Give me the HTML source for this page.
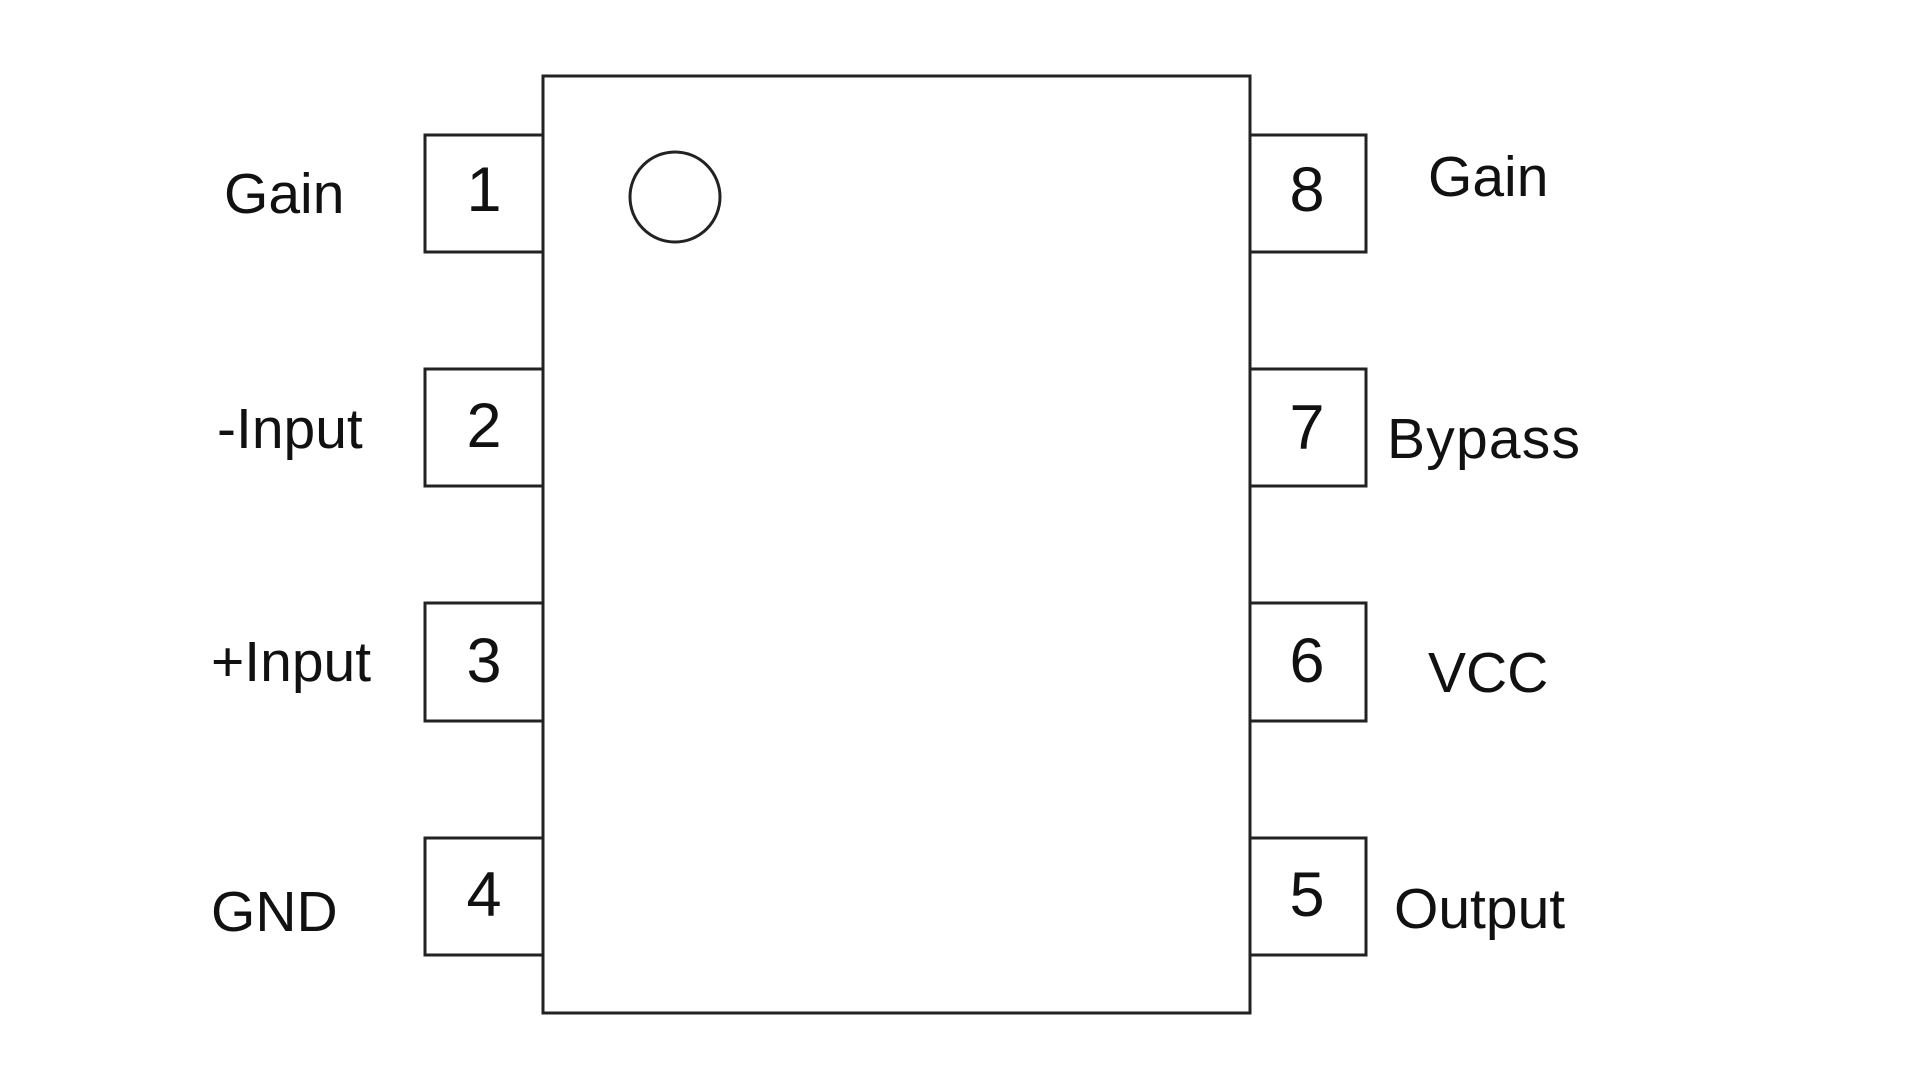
<!DOCTYPE html>
<html><head><style>html,body{margin:0;padding:0;background:#fff;}svg{display:block}</style></head>
<body>
<svg width="1920" height="1080" viewBox="0 0 1920 1080" xmlns="http://www.w3.org/2000/svg" font-family="Liberation Sans, Arial, sans-serif" fill="#111">
<g fill="#fff" stroke="#222" stroke-width="3">
<rect x="543" y="76" width="707" height="937"/>
<rect x="425" y="135" width="118" height="117"/>
<rect x="425" y="369" width="118" height="117"/>
<rect x="425" y="603" width="118" height="118"/>
<rect x="425" y="838" width="118" height="117"/>
<rect x="1250" y="135" width="116" height="117"/>
<rect x="1250" y="369" width="116" height="117"/>
<rect x="1250" y="603" width="116" height="118"/>
<rect x="1250" y="838" width="116" height="117"/>
<circle cx="675" cy="197" r="45"/>
</g>
<g font-size="63" text-anchor="middle">
<text x="484" y="211">1</text>
<text x="484" y="447">2</text>
<text x="484" y="682">3</text>
<text x="484" y="916">4</text>
<text x="1307" y="211">8</text>
<text x="1307" y="449">7</text>
<text x="1307" y="682">6</text>
<text x="1307" y="916">5</text>
</g>
<g font-size="57">
<text x="224" y="213">Gain</text>
<text x="217" y="448">-Input</text>
<text x="211" y="681">+Input</text>
<text x="211" y="931">GND</text>
<text x="1428" y="196">Gain</text>
<text x="1387" y="458" textLength="193">Bypass</text>
<text x="1428" y="692">VCC</text>
<text x="1394" y="928">Output</text>
</g>
</svg>
</body></html>
